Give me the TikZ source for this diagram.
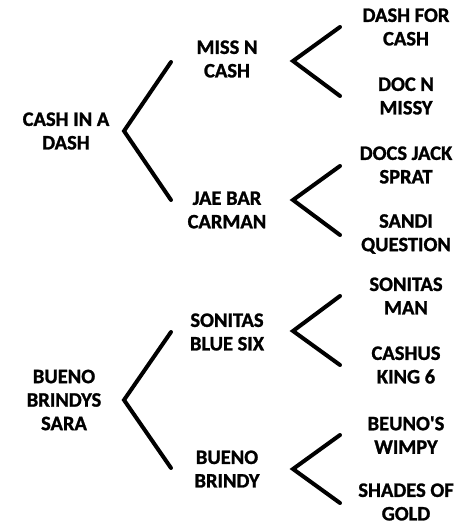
\documentclass[tikz,border=0pt]{standalone}
\usepackage{fontspec}
\setmainfont{Carlito}[BoldFeatures={FakeBold=1.2}]
\usepackage{tikz}
\usetikzlibrary{calc}

\begin{document}
\begin{tikzpicture}[
  x=1pt,y=-1pt,
  every node/.style={align=center,font=\fontsize{20.5}{23.5}\selectfont\bfseries,inner sep=0pt},
  fork/.style={line width=4pt,line cap=round,line join=miter},
]
\useasboundingbox (0,0) rectangle (459,526);
% sires, first column
\node (cash) at (66,131) {CASH IN A\\DASH};
\node (bueno) at (64,400) {BUENO\\BRINDYS\\SARA};
% second column
\node (miss) at (227,59) {MISS N\\CASH};
\node (jae) at (227,210) {JAE BAR\\CARMAN};
\node (sonitas) at (227,332) {SONITAS\\BLUE SIX};
\node (brindy) at (227,469) {BUENO\\BRINDY};
% third column
\node (dashfor) at (406,27) {DASH FOR\\CASH};
\node (doc) at (406,96) {DOC N\\MISSY};
\node (docs) at (406,165) {DOCS JACK\\SPRAT};
\node (sandi) at (406,234) {SANDI\\QUESTION};
\node (sonman) at (406,296) {SONITAS\\MAN};
\node (cashus) at (406,365) {CASHUS\\KING 6};
\node (beuno) at (406,435) {BEUNO\textquotesingle S\\WIMPY};
\node (shades) at (406,502) {SHADES OF\\GOLD};

% fork tips
\coordinate (cashfork) at (124,131);
\coordinate (buenofork) at (124,400);
\coordinate (missfork) at (293,61);
\coordinate (jaefork) at (293,200);
\coordinate (sonitasfork) at (293,331);
\coordinate (brindyfork) at (293,469);

\draw[fork] ($(cashfork)+(47,-69)$) -- (cashfork) -- ($(cashfork)+(47,69)$);
\draw[fork] ($(buenofork)+(47,-68)$) -- (buenofork) -- ($(buenofork)+(47,68)$);
\draw[fork] ($(missfork)+(47,-34)$) -- (missfork) -- ($(missfork)+(47,35)$);
\draw[fork] ($(jaefork)+(47,-34)$) -- (jaefork) -- ($(jaefork)+(47,35)$);
\draw[fork] ($(sonitasfork)+(47,-35)$) -- (sonitasfork) -- ($(sonitasfork)+(47,34)$);
\draw[fork] ($(brindyfork)+(47,-34)$) -- (brindyfork) -- ($(brindyfork)+(47,34)$);
\end{tikzpicture}
\end{document}
